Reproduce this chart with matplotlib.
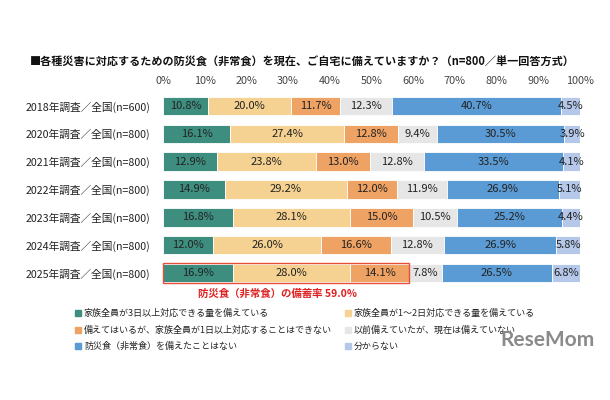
import numpy as np
import matplotlib
matplotlib.use('Agg')
from matplotlib import pyplot as plt
from matplotlib.patches import Rectangle

plt.rcParams['font.family'] = ['Noto Sans CJK JP', 'DejaVu Sans']

years = ['2018年調査／全国(n=600)', '2020年調査／全国(n=800)', '2021年調査／全国(n=800)',
         '2022年調査／全国(n=800)', '2023年調査／全国(n=800)', '2024年調査／全国(n=800)',
         '2025年調査／全国(n=800)']
answers = ['家族全員が3日以上対応できる量を備えている',
           '家族全員が1～2日対応できる量を備えている',
           '備えてはいるが、家族全員が1日以上対応することはできない',
           '以前備えていたが、現在は備えていない',
           '防災食（非常食）を備えたことはない',
           '分からない']
three_days = [10.8, 16.1, 12.9, 14.9, 16.8, 12.0, 16.9]
one_two_days = [20.0, 27.4, 23.8, 29.2, 28.1, 26.0, 28.0]
less_one_day = [11.7, 12.8, 13.0, 12.0, 15.0, 16.6, 14.1]
used_to = [12.3, 9.4, 12.8, 11.9, 10.5, 12.8, 7.8]
never = [40.7, 30.5, 33.5, 26.9, 25.2, 26.9, 26.5]
unknown = [4.5, 3.9, 4.1, 5.1, 4.4, 5.8, 6.8]
stock_rate_2025 = 59.0
ticks = [0, 10, 20, 30, 40, 50, 60, 70, 80, 90, 100]

series = [three_days, one_two_days, less_one_day, used_to, never, unknown]
colors = ['#3E8E80', '#F5D291', '#EEA263', '#E6E6E6', '#5B9BD5', '#B5C8EA']

fig = plt.figure(figsize=(6.1, 4.0), dpi=100)
ax = fig.add_axes([163/610, 1-287/400, 417/610, (287-92)/400])

y = np.arange(len(years))
left = np.zeros(len(years))
for vals, c in zip(series, colors):
    vals = np.array(vals)
    ax.barh(y, vals, left=left, height=0.66, color=c, edgecolor='white', linewidth=0.6)
    for yi, l, v in zip(y, left, vals):
        ax.text(l + v/2, yi, f'{v:.1f}%', ha='center', va='center', fontsize=8, color='#222222')
    left += vals

# highlight 2025 stock rate
ax.add_patch(Rectangle((0, y[-1]-0.36), stock_rate_2025, 0.72, fill=False,
                       edgecolor='#E8503A', linewidth=1.0, clip_on=False))
ax.text(27.5, y[-1]+0.75, f'防災食（非常食）の備蓄率 {stock_rate_2025:.1f}%',
        ha='center', va='center', fontsize=7.5, color='#E02020', fontweight='bold')

ax.set_xlim(0, 100)
ax.set_ylim(len(years)-0.5, -0.5)
ax.set_yticks(y)
ax.set_yticklabels(years, fontsize=7.7, color='#222222')
ax.set_xticks(ticks)
ax.set_xticklabels([f'{t}%' for t in ticks], fontsize=7.8, color='#444444')
ax.xaxis.tick_top()
ax.tick_params(axis='both', length=0)
ax.tick_params(axis='x', pad=4)
ax.tick_params(axis='y', pad=9)
for s in ax.spines.values():
    s.set_visible(False)

fig.text(30/610, 1-62/400,
         '■各種災害に対応するための防災食（非常食）を現在、ご自宅に備えていますか？（n=800／単一回答方式）',
         fontsize=8, fontweight='bold', va='center', ha='left', color='#111111')

# legend, two columns
col_x = [75, 345]
row_y = [313, 330, 346]
for i, (lab, c) in enumerate(zip(answers, colors)):
    cx = col_x[i % 2]
    ry = row_y[i // 2]
    fig.patches.append(Rectangle((cx/610, 1-(ry+3)/400), 6/610, 6/400, color=c,
                                 transform=fig.transFigure, figure=fig))
    fig.text((cx+9)/610, 1-ry/400, lab, fontsize=6.5, va='center', ha='left', color='#222222')

fig.text(548/610, 1-340/400, 'ReseMom', fontsize=15, fontweight='bold', color='#8A8A8A',
         ha='center', va='center', family=['Lato', 'DejaVu Sans'])

fig.savefig('out.png', dpi=100, facecolor='white')
